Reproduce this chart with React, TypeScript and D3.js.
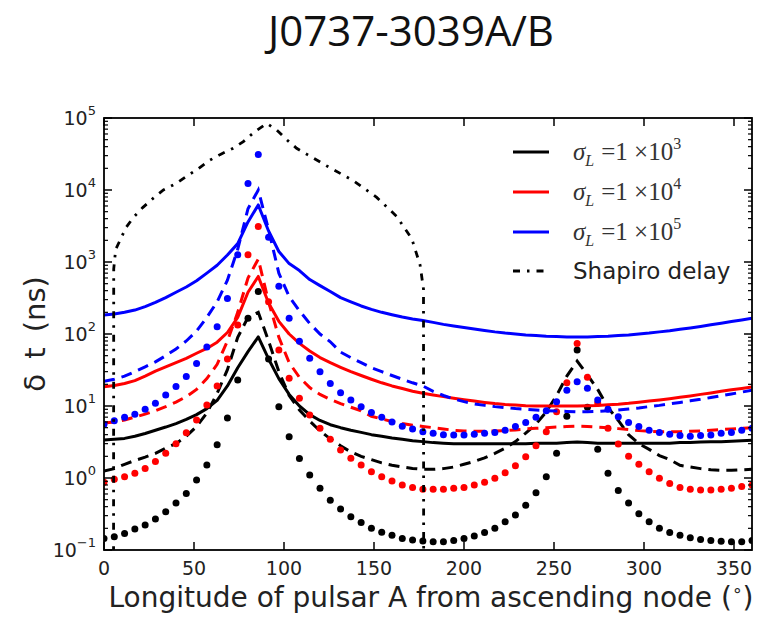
import React from "react";
import * as d3 from "d3";

// Sample longitudes (deg) of the model grid
const longitude = [
  0, 5.71, 11.43, 17.14, 22.86, 28.57, 34.29, 40,
  45.71, 51.43, 57.14, 62.86, 68.57, 74.29, 80, 85.71,
  91.43, 97.14, 102.86, 108.57, 114.29, 120, 125.71, 131.43,
  137.14, 142.86, 148.57, 154.29, 160, 165.71, 171.43, 177.14,
  182.86, 188.57, 194.29, 200, 205.71, 211.43, 217.14, 222.86,
  228.57, 234.29, 240, 245.71, 251.43, 257.14, 262.86, 268.57,
  274.29, 280, 285.71, 291.43, 297.14, 302.86, 308.57, 314.29,
  320, 325.71, 331.43, 337.14, 342.86, 348.57, 354.29, 360,
];

// sigma_L = 1e3 (black)
const solid1e3 = [
  3.37, 3.45, 3.55, 3.8, 4.15, 4.6, 5.1, 5.7,
  6.5, 7.6, 9.2, 12, 19, 34, 57, 91,
  45, 24, 14.5, 10, 7.6, 6.3, 5.5, 5.0,
  4.6, 4.3, 4.0, 3.8, 3.6, 3.45, 3.3, 3.2,
  3.1, 3.05, 3.0, 3.0, 3.0, 3.0, 3.0, 3.0,
  3.0, 3.0, 3.05, 3.05, 3.05, 3.1, 3.15, 3.1,
  3.05, 3.05, 3.05, 3.05, 3.05, 3.05, 3.05, 3.05,
  3.1, 3.1, 3.15, 3.2, 3.2, 3.25, 3.3, 3.35,
];
const dashed1e3 = [
  1.25, 1.35, 1.55, 1.75, 1.95, 2.2, 2.6, 3.0,
  3.8, 5.2, 8, 15, 32, 90, 170, 200,
  80, 30, 14, 8.8, 6.2, 4.5, 3.5, 2.8,
  2.3, 2.0, 1.8, 1.62, 1.5, 1.42, 1.36, 1.32,
  1.32, 1.35, 1.42, 1.55, 1.7, 1.9, 2.2, 2.6,
  3.2, 4.2, 5.6, 8.3, 14, 26, 42, 27,
  17, 9.5, 6.3, 4.0, 3.0, 2.5, 2.05, 1.8,
  1.5, 1.42, 1.35, 1.3, 1.28, 1.28, 1.3, 1.32,
];
const dotted1e3 = [
  0.145, 0.153, 0.17, 0.195, 0.222, 0.27, 0.34, 0.45,
  0.61, 0.94, 1.52, 2.9, 6.8, 23, 166, 390,
  45, 9.8, 3.75, 1.86, 1.1, 0.72, 0.49, 0.37,
  0.29, 0.24, 0.2, 0.176, 0.16, 0.145, 0.138, 0.133,
  0.13, 0.13, 0.135, 0.145, 0.156, 0.175, 0.2, 0.247,
  0.306, 0.42, 0.625, 1.04, 2.2, 7.2, 60, 9.6,
  2.5, 1.16, 0.67, 0.45, 0.32, 0.247, 0.2, 0.175,
  0.16, 0.148, 0.14, 0.135, 0.132, 0.13, 0.13, 0.135,
];

// sigma_L = 1e4 (red)
const solid1e4 = [
  18.5, 19.3, 20.5, 22.5, 26, 30.5, 35, 40,
  46, 54, 63, 77, 105, 170, 380, 630,
  270, 150, 100, 74, 58, 47, 40, 34.5,
  30, 26.5, 23.5, 21, 19, 17.5, 16, 15,
  14.2, 13.5, 12.8, 12.2, 11.7, 11.2, 10.8, 10.5,
  10.3, 10.1, 10, 10, 10, 10, 10, 10.1,
  10.2, 10.4, 10.6, 10.9, 11.3, 11.7, 12.1, 12.6,
  13.2, 13.8, 14.5, 15.2, 16, 16.8, 17.5, 18.3,
];
const dashed1e4 = [
  5.8, 6.0, 6.4, 7.0, 7.7, 8.6, 9.8, 11.3,
  13.5, 17, 24, 38, 80, 200, 600, 1100,
  280, 90, 40, 25, 18, 14.5, 12.3, 10.8,
  9.6, 8.6, 7.2, 6.6, 6.1, 5.7, 5.4, 5.2,
  5.0, 4.8, 4.6, 4.5, 4.45, 4.45, 4.5, 4.55,
  4.65, 4.8, 4.9, 5.0, 5.1, 5.2, 5.25, 5.2,
  5.1, 5.0, 4.85, 4.7, 4.55, 4.45, 4.4, 4.4,
  4.4, 4.45, 4.5, 4.6, 4.7, 4.8, 4.9, 5.0,
];
const dotted1e4 = [
  0.87, 0.96, 1.04, 1.16, 1.36, 1.69, 2.2, 3.0,
  4.26, 6.4, 10.3, 19, 45, 133, 1260, 3100,
  280, 60, 24.3, 12.8, 7.5, 4.9, 3.44, 2.45,
  1.88, 1.51, 1.22, 1.04, 0.91, 0.8, 0.74, 0.7,
  0.7, 0.7, 0.72, 0.74, 0.8, 0.87, 0.99, 1.18,
  1.48, 1.98, 2.8, 4.4, 8.3, 21, 74, 25,
  11, 4.9, 2.97, 2.0, 1.55, 1.22, 0.99, 0.84,
  0.74, 0.7, 0.68, 0.68, 0.7, 0.72, 0.76, 0.8,
];

// sigma_L = 1e5 (blue)
const solid1e5 = [
  184, 190, 200, 215, 240, 275, 320, 380,
  450, 550, 700, 900, 1250, 1800, 3600, 6200,
  2700, 1400, 950, 760, 570, 470, 390, 320,
  280, 245, 220, 200, 185, 172, 162, 154,
  145, 136, 129, 123, 117, 112, 107, 103,
  100, 97, 95, 93, 92, 91, 91, 91,
  92, 93, 95, 97, 100, 103, 107, 111,
  116, 121, 127, 134, 141, 149, 157, 166,
];
const dashed1e5 = [
  22, 23.5, 26, 30, 35, 41, 50, 62,
  80, 110, 170, 280, 560, 1500, 5500, 10000,
  2800, 700, 330, 210, 140, 100, 78, 56,
  47, 40, 34, 30, 26.5, 23.5, 21, 19,
  16, 14, 12.5, 11.5, 10.7, 10.2, 9.8, 9.5,
  9.2, 9.0, 8.8, 8.6, 8.5, 8.4, 8.3, 8.3,
  8.4, 8.6, 8.8, 9.1, 9.4, 9.8, 10.2, 10.7,
  11.2, 11.8, 12.4, 13.1, 13.9, 14.7, 15.6, 16.6,
];
const dotted1e5 = [
  5.6, 6.25, 7.0, 7.7, 9.0, 10.9, 14.2, 18.6,
  25.6, 39, 66, 126, 310, 1260, 12300, 31000,
  2200, 460, 166, 79, 46, 30, 20.6, 15.3,
  12.1, 9.8, 8.1, 7.0, 6.0, 5.25, 4.8, 4.4,
  4.2, 4.0, 3.95, 3.95, 4.05, 4.2, 4.3, 4.6,
  5.2, 5.9, 7.0, 8.6, 11.5, 16.6, 21.7, 17.7,
  12.1, 9.0, 7.1, 5.9, 5.2, 4.6, 4.3, 4.05,
  3.9, 3.8, 3.9, 3.95, 4.2, 4.3, 4.6, 4.9,
];

// Shapiro delay (ns)
const shapiroLongitude = [
  5.3, 5.4, 6.5, 8.9, 12.2, 16.3, 21.5, 27.4, 33, 40, 46.3, 52.4, 58.9, 64.4,
  71.8, 77.4, 83.9, 90.5, 96, 101.5, 107, 113, 124.6, 138.5, 151.5, 162.6, 171,
  175.6, 177.5, 177.6,
];
const shapiroDelay = [
  0.02, 800, 1500, 2000, 3000, 4150, 5700, 7700, 10000, 12300, 15800, 19800, 26000, 31000,
  38000, 47000, 65000, 84000, 68000, 50000, 38000, 31000, 21000, 13500, 7900, 4300, 2100,
  910, 420, 0.02,
];

const xTicks = [0, 50, 100, 150, 200, 250, 300, 350];
const yDecades = [-1, 0, 1, 2, 3, 4, 5];
const legendExponents = ["3", "4", "5"];
const colors = ["#000000", "#ff0000", "#0000ff"];

export default function App() {
  const W = 757;
  const H = 617;
  const L = 104, R = 752, T = 118, B = 550;
  const x = d3.scaleLinear().domain([0, 360]).range([L, R]);
  const y = d3.scaleLog().domain([0.1, 1e5]).range([B, T]);
  const line = d3
    .line<[number, number]>()
    .x((d) => x(d[0]))
    .y((d) => y(d[1]))
    .curve(d3.curveLinear);

  const pts = (vals: number[]) => longitude.map((lo, i) => [lo, vals[i]] as [number, number]);

  const groups = [
    { solid: solid1e3, dashed: dashed1e3, dotted: dotted1e3, color: colors[0] },
    { solid: solid1e4, dashed: dashed1e4, dotted: dotted1e4, color: colors[1] },
    { solid: solid1e5, dashed: dashed1e5, dotted: dotted1e5, color: colors[2] },
  ];

  const minor: number[] = [];
  for (let d = -1; d < 5; d++) for (let m = 2; m <= 9; m++) minor.push(m * Math.pow(10, d));

  const shapiroPts = shapiroLongitude.map((lo, i) => [lo, shapiroDelay[i]] as [number, number]);

  const legendY = [152, 192, 232, 271];
  const lw = 3;
  const sans = "'DejaVu Sans', sans-serif";

  return (
    <div style={{ position: "absolute", left: 0, top: 0 }}>
      <svg width={W} height={H} style={{ display: "block", background: "#fff" }}>
        <rect x={0} y={0} width={W} height={H} fill="#fff" />
        <defs>
          <clipPath id="plotclip">
            <rect x={L} y={T} width={R - L} height={B - T} />
          </clipPath>
        </defs>
        <text x={411} y={46} textAnchor="middle" fontFamily="'Open Sans', 'Liberation Sans', sans-serif" fontSize={42} fill="#111">
          J0737-3039A/B
        </text>

        <g clipPath="url(#plotclip)">
          {groups.map((g, gi) => (
            <g key={gi}>
              <path d={line(pts(g.solid)) || ""} fill="none" stroke={g.color} strokeWidth={lw} strokeLinejoin="round" />
              <path d={line(pts(g.dashed)) || ""} fill="none" stroke={g.color} strokeWidth={lw} strokeDasharray="11,7" />
              {longitude.map((lo, i) => (
                <circle key={i} cx={x(lo)} cy={y(g.dotted[i])} r={3.5} fill={g.color} />
              ))}
            </g>
          ))}
          <path d={line(shapiroPts) || ""} fill="none" stroke="#000" strokeWidth={2.8} strokeDasharray="7,7,2.5,7" />
        </g>

        {/* spines */}
        <rect x={L} y={T} width={R - L} height={B - T} fill="none" stroke="#000" strokeWidth={1.8} />

        {/* x ticks */}
        {xTicks.map((t) => (
          <g key={t}>
            <line x1={x(t)} x2={x(t)} y1={B} y2={B - 8} stroke="#000" strokeWidth={1.5} />
            <line x1={x(t)} x2={x(t)} y1={T} y2={T + 8} stroke="#000" strokeWidth={1.5} />
            <text x={x(t)} y={575} textAnchor="middle" fontFamily={sans} fontSize={19} fill="#222">
              {t}
            </text>
          </g>
        ))}

        {/* y ticks */}
        {yDecades.map((e) => {
          const v = Math.pow(10, e);
          return (
            <g key={e}>
              <line x1={L} x2={L + 8} y1={y(v)} y2={y(v)} stroke="#000" strokeWidth={1.5} />
              <line x1={R} x2={R - 8} y1={y(v)} y2={y(v)} stroke="#000" strokeWidth={1.5} />
              <text x={96} y={y(v) + 7} textAnchor="end" fontFamily={sans} fontSize={19} fill="#222">
                <tspan>10</tspan>
                <tspan fontSize={13} dy={-10}>{e < 0 ? "\u2212" + Math.abs(e) : String(e)}</tspan>
              </text>
            </g>
          );
        })}
        {minor.map((v, i) => (
          <g key={"m" + i}>
            <line x1={L} x2={L + 4} y1={y(v)} y2={y(v)} stroke="#000" strokeWidth={1.2} />
            <line x1={R} x2={R - 4} y1={y(v)} y2={y(v)} stroke="#000" strokeWidth={1.2} />
          </g>
        ))}

        {/* axis labels */}
        <text x={431} y={607} textAnchor="middle" fontFamily={sans} fontSize={28} fill="#222">
          Longitude of pulsar A from ascending node (<tspan fontSize={17} dy={-11}>∘</tspan><tspan dy={11}>)</tspan>
        </text>
        <text
          transform={`translate(45, ${(T + B) / 2}) rotate(-90)`}
          textAnchor="middle"
          fontFamily={sans}
          fontSize={29}
          fill="#222"
          wordSpacing={6}
        >
          δ t (ns)
        </text>

        {/* legend */}
        {legendExponents.map((ex, i) => (
          <g key={ex}>
            <line x1={513} x2={549} y1={legendY[i]} y2={legendY[i]} stroke={colors[i]} strokeWidth={lw} />
            <text x={573} y={legendY[i] + 8} fontFamily="'Liberation Serif', 'DejaVu Serif', serif" fontSize={25} fill="#333">
              <tspan fontStyle="italic">σ</tspan>
              <tspan fontStyle="italic" fontSize={16} dy={6}>L</tspan>
              <tspan dy={-6} dx={7}>=1 ×10</tspan>
              <tspan fontSize={16} dy={-11}>{ex}</tspan>
            </text>
          </g>
        ))}
        <line x1={513} x2={549} y1={legendY[3]} y2={legendY[3]} stroke="#000" strokeWidth={2.8} strokeDasharray="7,7,2.5,7" />
        <text x={573} y={legendY[3] + 8} fontFamily={sans} fontSize={23} fill="#222">
          Shapiro delay
        </text>
      </svg>
    </div>
  );
}
